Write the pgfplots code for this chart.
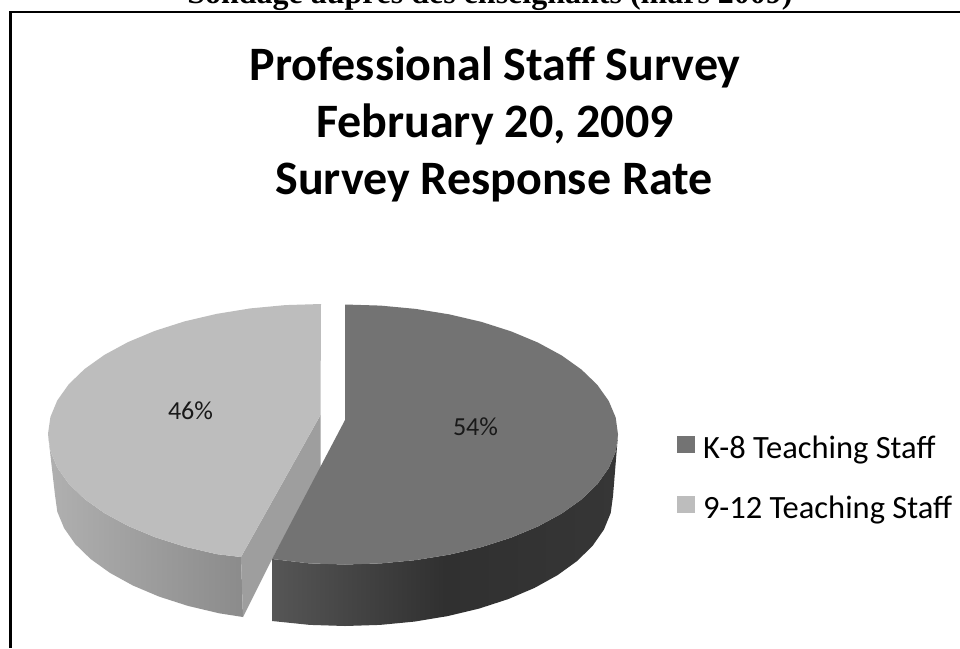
\documentclass[border=0pt]{standalone}
\usepackage{fontspec}
\setmainfont{Carlito}
\newfontfamily\captionserif{Liberation Serif}
\usepackage{pgfplots}
\pgfplotsset{compat=1.18}

\definecolor{kEightTop}{HTML}{737373}
\definecolor{kEightSideA}{HTML}{565656}
\definecolor{kEightSideB}{HTML}{303030}
\definecolor{kEightSideC}{HTML}{363636}
\definecolor{highTop}{HTML}{BDBDBD}
\definecolor{highSideA}{HTML}{B0B0B0}
\definecolor{highSideB}{HTML}{8B8B8B}
\definecolor{highCut}{HTML}{9E9E9E}

\begin{document}
\begin{tikzpicture}
\path[use as bounding box] (0,0) rectangle (960pt,648pt);
\clip (0,0) rectangle (960pt,648pt);
\fill[white] (0,0) rectangle (960pt,648pt);
\begin{axis}[
  scale only axis, width=960pt, height=648pt,
  xmin=0, xmax=960, ymin=0, ymax=648, y dir=reverse,
  hide axis, clip=false,
  legend style={at={(axis cs:677,434)}, anchor=north west, draw=none, fill=none,
    inner sep=0pt, outer sep=0pt, font=\fontsize{32.5}{36}\selectfont,
    row sep=32pt, /tikz/column 1/.style={column sep=6pt}},
  legend cell align=left,
  legend image code/.code={\fill[#1] (0pt,-5pt) rectangle (18pt,12pt);},
]
% Frame: only the top and left rules fall inside the page
\addplot[black, line width=2.3pt, forget plot] coordinates {(10.5,648) (10.5,12) (960,12)};

% 9-12 slice: outer wall
\addplot[draw=none, forget plot, left color=highSideA, right color=highSideB] coordinates {
 (48,434) (50.4,451) (57.3,467.6) (68.8,483.8) (84.6,499) (104.4,513.1) (128,525.9)
 (154.8,537.1) (184.5,546.6) (216.5,554.1) (241,557)
 (243,617) (219.2,613.3) (188,605.9) (159.1,596.6) (132.9,585.5) (110,572.9)
 (90.6,559) (75.2,544) (64.1,528.1) (57.3,511.7) (55,495)
} -- cycle;
% 9-12 slice: cut face, running under the K-8 slice
\addplot[draw=none, fill=highCut, forget plot] coordinates {
 (320.5,415) (241,557) (243,617) (272,559) (320.5,470)
} -- cycle;
% K-8 slice: outer wall
\addplot[draw=none, forget plot, left color=kEightSideA, right color=kEightSideC, middle color=kEightSideB] coordinates {
 (618,434.5) (615.7,451.5) (608.7,468.1) (597.2,484.3) (581.4,499.5) (561.6,513.6)
 (538,526.4) (511.2,537.6) (481.5,547.1) (449.5,554.6) (415.7,560.1) (380.6,563.4)
 (345,564.5) (309.4,563.4) (272,559)
 (272,621) (310,624.9) (345,626) (380,624.9) (414.4,621.6) (447.6,616.1) (479,608.6)
 (508.2,599.1) (534.5,587.9) (557.6,575.1) (577.1,561) (592.6,545.8) (603.9,529.6)
 (610.7,513) (613,496)
} -- cycle;
% K-8 slice: top face
\addplot[draw=none, fill=kEightTop] coordinates {
 (345,420) (345,304.5) (380.6,305.6) (415.7,308.9) (449.5,314.4) (481.5,321.9)
 (511.2,331.4) (538,342.6) (561.6,355.4) (581.4,369.5) (597.2,384.7) (608.7,400.9)
 (615.7,417.5) (618,434.5) (615.7,451.5) (608.7,468.1) (597.2,484.3) (581.4,499.5)
 (561.6,513.6) (538,526.4) (511.2,537.6) (481.5,547.1) (449.5,554.6) (415.7,560.1)
 (380.6,563.4) (345,564.5) (309.4,563.4) (272,559)
} -- cycle;
\addlegendentry{K-8 Teaching Staff}
% 9-12 slice: top face
\addplot[draw=none, fill=highTop] coordinates {
 (320.5,415) (321,304) (285.4,305.1) (250.3,308.4) (216.5,313.9) (184.5,321.4)
 (154.8,330.9) (128,342.1) (104.4,354.9) (84.6,369) (68.8,384.2) (57.3,400.4)
 (50.4,417) (48,434) (50.4,451) (57.3,467.6) (68.8,483.8) (84.6,499) (104.4,513.1)
 (128,525.9) (154.8,537.1) (184.5,546.6) (216.5,554.1) (241,557)
} -- cycle;
\addlegendentry{9-12 Teaching Staff}

% Slice shares
\node[anchor=base, inner sep=0pt, font=\fontsize{26}{30}\selectfont, text=black!90] at (axis cs:190.5,419) {46\%};
\node[anchor=base, inner sep=0pt, font=\fontsize{26}{30}\selectfont, text=black!90] at (axis cs:475.5,435) {54\%};

% Heading lines
\node[anchor=base, inner sep=0pt, font=\fontsize{48}{54}\bfseries\selectfont] at (axis cs:495,80) {Professional Staff Survey};
\node[anchor=base, inner sep=0pt, font=\fontsize{48}{54}\bfseries\selectfont] at (axis cs:495,137) {February 20, 2009};
\node[anchor=base, inner sep=0pt, font=\fontsize{48}{54}\bfseries\selectfont] at (axis cs:494,194) {Survey Response Rate};
\node[anchor=base, inner sep=0pt, font=\captionserif\fontsize{32}{36}\bfseries\selectfont] at (axis cs:490,3) {Sondage auprès des enseignants (mars 2009)};
\end{axis}
\end{tikzpicture}
\end{document}
